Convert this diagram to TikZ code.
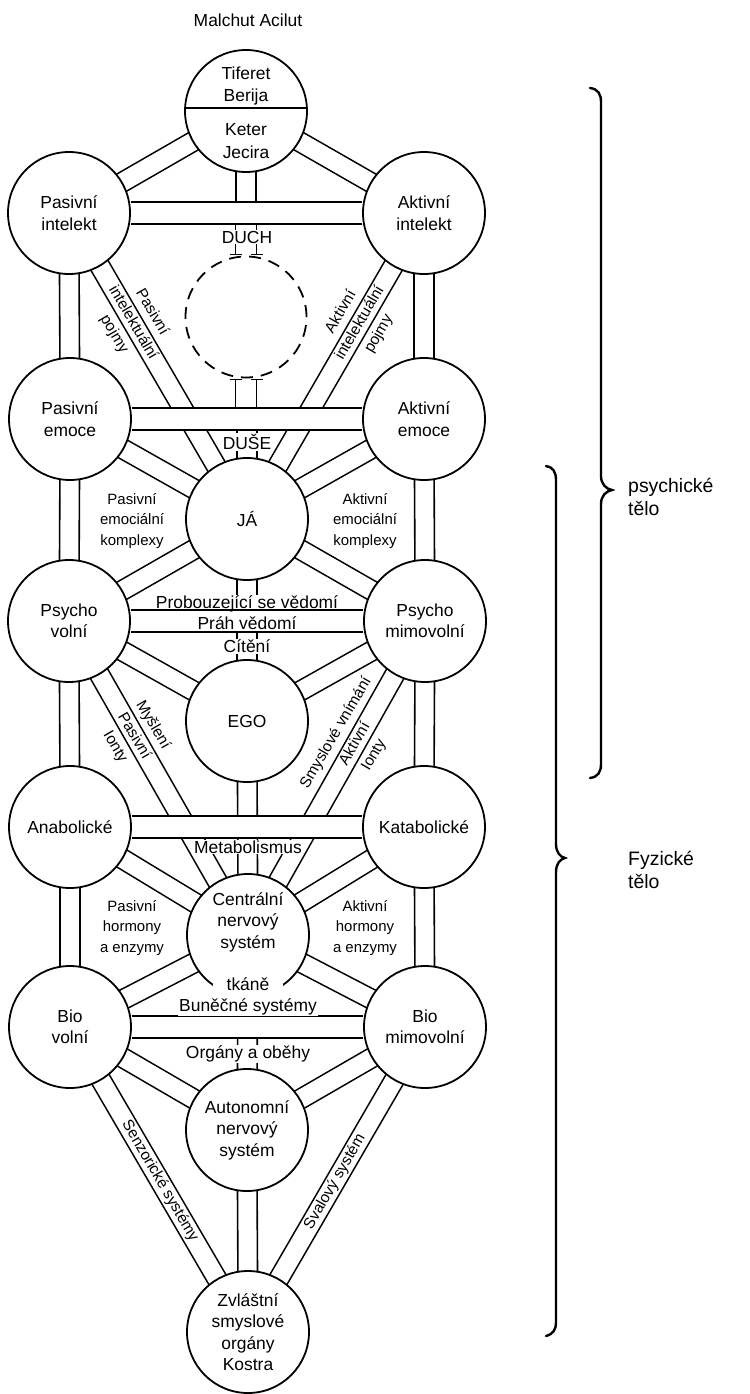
\documentclass[tikz,border=0pt]{standalone}
\usepackage{fontspec}
\setmainfont{Liberation Sans}
\usetikzlibrary{calc}
\pgfdeclarelayer{background}
\pgfsetlayers{background,main}
\begin{document}
\begin{tikzpicture}[x=1bp,y=-1bp,
  ch/.style={draw=black, line width=1.6bp, double=white, double distance=18bp, shorten <=-4bp, shorten >=-4bp},
  hbar/.style={draw=black, line width=1.6bp, double=white, double distance=20bp},
  sph/.style={circle, draw, line width=1.8bp, fill=white, minimum size=122bp, inner sep=0pt, align=center, font=\fontsize{17.5}{21.5}\selectfont},
  lab/.style={fill=white, inner sep=1bp, font=\fontsize{17.5}{21}\selectfont},
  small/.style={align=center, inner sep=0pt, font=\fontsize{15}{20.5}\selectfont},
  rot/.style={align=center, inner sep=0pt, font=\fontsize{15.5}{22}\selectfont},
  thin/.style={line width=1.6bp},
  brace/.style={line width=2.4bp, line cap=round},
  side/.style={align=left, anchor=west, inner sep=0pt, font=\fontsize{19.5}{23}\selectfont}
]
\useasboundingbox (0,0) rectangle (749,1394);

% ---------- circles ----------
\node[sph] (T) at (246,111) {};
\node[sph] (PI) at (69,213) {Pasivní\\intelekt};
\node[sph] (AI) at (424,213) {Aktivní\\intelekt};
\node[circle, draw, dashed, dash pattern=on 12bp off 8bp, line width=1.8bp, minimum size=121bp, inner sep=0pt] (D) at (246,317) {};
\node[sph] (PE) at (70,419) {Pasivní\\emoce};
\node[sph] (AE) at (424,419) {Aktivní\\emoce};
\node[sph] (JA) at (247,519) {JÁ};
\node[sph] (PV) at (69,621) {Psycho\\volní};
\node[sph] (PM) at (425,621) {Psycho\\mimovolní};
\node[sph] (EGO) at (247,721) {EGO};
\node[sph] (AN) at (70,827) {Anabolické};
\node[sph] (KA) at (424,827) {Katabolické};
\node[sph] (CNS) at (248,935) {};
\node[sph] (BV) at (70,1027) {Bio\\volní};
\node[sph] (BM) at (425,1027) {Bio\\mimovolní};
\node[sph] (ANS) at (247,1130) {Autonomní\\nervový\\systém};
\node[sph] (ZV) at (248,1332) {Zvláštní\\smyslové\\orgány\\Kostra};

% text inside split / shifted circles
\draw[thin] ([yshift=3bp]T.west) -- ([yshift=3bp]T.east);
\node[align=center, font=\fontsize{17.5}{23}\selectfont] (Ttop) at (246,86) {Tiferet\\Berija};
\node[align=center, font=\fontsize{17.5}{23}\selectfont] (Tbot) at (246,141) {Keter\\Jecira};
\node[align=center, font=\fontsize{17.5}{21.5}\selectfont] (CNSt) at (248,922) {Centrální\\nervový\\systém};

% ---------- channels ----------
\begin{pgfonlayer}{background}
% diagonals crossing bars
\draw[ch] (PI) -- (JA);
\draw[ch] (AI) -- (JA);
\draw[ch] (PV) -- (CNS);
\draw[ch] (PM) -- (CNS);
% verticals through bars
\draw[ch] (T) -- (T |- PI);
\draw[ch] (JA) -- (JA |- PE);
\draw[ch] (JA) -- (EGO);
\draw[ch] (EGO) -- (CNS);
\draw[ch] (CNS) -- (ANS);
% other diagonals
\draw[ch] (T) -- (PI);
\draw[ch] (T) -- (AI);
\draw[ch] (PE) -- (JA);
\draw[ch] (AE) -- (JA);
\draw[ch] (JA) -- (PV);
\draw[ch] (JA) -- (PM);
\draw[ch] (PV) -- (EGO);
\draw[ch] (PM) -- (EGO);
\draw[ch] (AN) -- (CNS);
\draw[ch] (KA) -- (CNS);
\draw[ch] (CNS) -- (BV);
\draw[ch] (CNS) -- (BM);
\draw[ch] (BV) -- (ANS);
\draw[ch] (BM) -- (ANS);
\draw[ch] (BV) -- (ZV);
\draw[ch] (BM) -- (ZV);
\draw[ch] (ANS) -- (ZV);
% side verticals
\draw[ch] (PI) -- (PE);
\draw[ch] (PE) -- (PV);
\draw[ch] (PV) -- (AN);
\draw[ch] (AN) -- (BV);
\draw[ch] (AI) -- (AE);
\draw[ch] (AE) -- (PM);
\draw[ch] (PM) -- (KA);
\draw[ch] (KA) -- (BM);
% horizontal bars
\draw[hbar] (PI) -- (AI);
\draw[hbar] (PE) -- (AE);
\draw[hbar] (PV) -- (PM);
\draw[hbar] (AN) -- (KA);
\draw[hbar] (BV) -- (BM);
\end{pgfonlayer}

% stubs at the dashed circle
\coordinate (d1) at ($(D.north)+(-10.5,-1)$);
\coordinate (d2) at ($(D.north)+(10.5,-1)$);
\draw[thin] (d1) -- ($(d1 |- PI)+(0,11)$) (d2) -- ($(d2 |- PI)+(0,11)$);
\draw[thin] ($(d1)+(-6,0)$) -- ($(d1)+(6,0)$) ($(d2)+(-6,0)$) -- ($(d2)+(6,0)$);
\coordinate (d3) at ($(D.south)+(-10.5,1)$);
\coordinate (d4) at ($(D.south)+(10.5,1)$);
\draw[thin] (d3) -- ($(d3 |- PE)+(0,-11)$) (d4) -- ($(d4 |- PE)+(0,-11)$);
\draw[thin] ($(d3)+(-6,0)$) -- ($(d3)+(6,0)$) ($(d4)+(-6,0)$) -- ($(d4)+(6,0)$);

% ---------- labels on channels ----------
\node[font=\fontsize{17.5}{21}\selectfont] (title) at (248,20) {Malchut Acilut};
\node[lab] (duch) at (247,237) {DUCH};
\node[lab] (duse) at (247,442) {DUŠE};
\node[lab, text depth=0pt, inner ysep=0.5bp] (prob) at (247,602) {Probouzející se vědomí};
\node[inner sep=0pt, font=\fontsize{17.5}{21}\selectfont] (prah) at (247,623) {Práh vědomí};
\node[lab] (citeni) at (247,646) {Cítění};
\node[lab] (metab) at (248,847) {Metabolismus};
\node[lab, minimum width=70bp, minimum height=27bp, inner sep=0pt] (tkane) at (248,984) {tkáně};
\node[lab] (bunecne) at (248,1007) {Buněčné systémy};
\node[lab] (organy) at (248,1054) {Orgány a oběhy};

\node[small] (pek) at (132,521) {Pasivní\\emociální\\komplexy};
\node[small] (aek) at (365,521) {Aktivní\\emociální\\komplexy};
\node[small] (phe) at (132,928) {Pasivní\\hormony\\a enzymy};
\node[small] (ahe) at (365,928) {Aktivní\\hormony\\a enzymy};

\node[rot, rotate=-59.8] (pip) at (133,323) {Pasivní\\intelektuální\\pojmy};
\node[rot, rotate=59.8] (aip) at (360,323) {Aktivní\\intelektuální\\pojmy};
\node[rot, rotate=-59.7] (mpi) at (134,736) {Myšlení\\Pasivní\\Ionty};
\node[rot, rotate=59.7] (sai) at (355,744) {Smyslové vnímání\\Aktivní\\Ionty};
\node[rot, rotate=-59.7] (sen) at (160,1181) {Senzorické systémy};
\node[rot, rotate=59.9] (sva) at (335,1182) {Svalový systém};

% ---------- braces ----------
\draw[brace] (590,88) .. controls (598,89) and (601,94) .. (601,102) -- (601,476)
  .. controls (601,484) and (606,489) .. (612,490) .. controls (606,491) and (601,496) .. (601,504)
  -- (601,764) .. controls (601,772) and (598,777) .. (590,778);
\draw[brace] (546,466) .. controls (553,467) and (556,472) .. (556,480) -- (556,844)
  .. controls (556,852) and (560,857) .. (565,858) .. controls (560,859) and (556,864) .. (556,872)
  -- (556,1322) .. controls (556,1330) and (553,1334) .. (546,1336);
\node[side] (psy) at (628,497) {psychické\\tělo};
\node[side] (fyz) at (628,870) {Fyzické\\tělo};
\end{tikzpicture}
\end{document}
